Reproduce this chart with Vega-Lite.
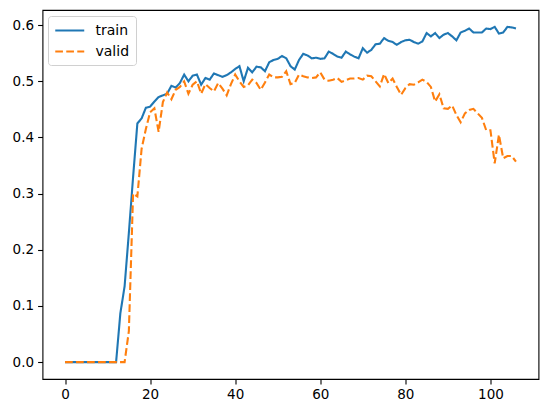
{
  "$schema": "https://vega.github.io/schema/vega-lite/v6.json",
  "autosize": {"type": "none"},
  "width": 496,
  "height": 369,
  "padding": {"left": 42.5, "top": 10, "right": 8.5, "bottom": 34},
  "background": "white",
  "config": {
    "view": {"stroke": "#000000", "strokeWidth": 1.1},
    "axis": {
      "domain": false, "grid": false,
      "tickColor": "#000000", "tickSize": 4.9, "tickWidth": 1.1,
      "labelColor": "#000000", "labelFont": "DejaVu Sans", "labelFontSize": 13.5,
      "labelPadding": 4
    },
    "legend": {
      "labelFont": "DejaVu Sans", "labelFontSize": 14, "labelColor": "#000000",
      "symbolType": "M-1,0H3", "symbolSize": 210, "symbolStrokeWidth": 2,
      "fillColor": "white", "strokeColor": "#d0d0d0", "cornerRadius": 3,
      "padding": 6, "rowPadding": 5, "labelOffset": 24.5
    }
  },
  "data": {
    "values": [
      {"epoch": 0, "train": 0, "valid": 0},
      {"epoch": 1, "train": 0, "valid": 0},
      {"epoch": 2, "train": 0, "valid": 0},
      {"epoch": 3, "train": 0, "valid": 0},
      {"epoch": 4, "train": 0, "valid": 0},
      {"epoch": 5, "train": 0, "valid": 0},
      {"epoch": 6, "train": 0, "valid": 0},
      {"epoch": 7, "train": 0, "valid": 0},
      {"epoch": 8, "train": 0, "valid": 0},
      {"epoch": 9, "train": 0, "valid": 0},
      {"epoch": 10, "train": 0, "valid": 0},
      {"epoch": 11, "train": 0, "valid": 0},
      {"epoch": 12, "train": 0, "valid": 0},
      {"epoch": 13, "train": 0.087, "valid": 0},
      {"epoch": 14, "train": 0.135, "valid": 0},
      {"epoch": 15, "train": 0.23, "valid": 0.055},
      {"epoch": 16, "train": 0.33, "valid": 0.30},
      {"epoch": 17, "train": 0.425, "valid": 0.295},
      {"epoch": 18, "train": 0.434, "valid": 0.38},
      {"epoch": 19, "train": 0.453, "valid": 0.415},
      {"epoch": 20, "train": 0.455, "valid": 0.445},
      {"epoch": 21, "train": 0.464, "valid": 0.452},
      {"epoch": 22, "train": 0.472, "valid": 0.41},
      {"epoch": 23, "train": 0.475, "valid": 0.463},
      {"epoch": 24, "train": 0.478, "valid": 0.48},
      {"epoch": 25, "train": 0.492, "valid": 0.468},
      {"epoch": 26, "train": 0.489, "valid": 0.485},
      {"epoch": 27, "train": 0.497, "valid": 0.49},
      {"epoch": 28, "train": 0.512, "valid": 0.50},
      {"epoch": 29, "train": 0.500, "valid": 0.478},
      {"epoch": 30, "train": 0.510, "valid": 0.494},
      {"epoch": 31, "train": 0.512, "valid": 0.50},
      {"epoch": 32, "train": 0.494, "valid": 0.478},
      {"epoch": 33, "train": 0.506, "valid": 0.495},
      {"epoch": 34, "train": 0.503, "valid": 0.488},
      {"epoch": 35, "train": 0.514, "valid": 0.482},
      {"epoch": 36, "train": 0.511, "valid": 0.497},
      {"epoch": 37, "train": 0.508, "valid": 0.487},
      {"epoch": 38, "train": 0.511, "valid": 0.475},
      {"epoch": 39, "train": 0.516, "valid": 0.495},
      {"epoch": 40, "train": 0.522, "valid": 0.512},
      {"epoch": 41, "train": 0.527, "valid": 0.50},
      {"epoch": 42, "train": 0.500, "valid": 0.49},
      {"epoch": 43, "train": 0.524, "valid": 0.493},
      {"epoch": 44, "train": 0.516, "valid": 0.503},
      {"epoch": 45, "train": 0.526, "valid": 0.497},
      {"epoch": 46, "train": 0.525, "valid": 0.485},
      {"epoch": 47, "train": 0.518, "valid": 0.498},
      {"epoch": 48, "train": 0.534, "valid": 0.512},
      {"epoch": 49, "train": 0.538, "valid": 0.507},
      {"epoch": 50, "train": 0.540, "valid": 0.507},
      {"epoch": 51, "train": 0.545, "valid": 0.508},
      {"epoch": 52, "train": 0.541, "valid": 0.518},
      {"epoch": 53, "train": 0.527, "valid": 0.495},
      {"epoch": 54, "train": 0.521, "valid": 0.497},
      {"epoch": 55, "train": 0.538, "valid": 0.512},
      {"epoch": 56, "train": 0.549, "valid": 0.509},
      {"epoch": 57, "train": 0.546, "valid": 0.507},
      {"epoch": 58, "train": 0.541, "valid": 0.506},
      {"epoch": 59, "train": 0.542, "valid": 0.507},
      {"epoch": 60, "train": 0.540, "valid": 0.516},
      {"epoch": 61, "train": 0.541, "valid": 0.503},
      {"epoch": 62, "train": 0.553, "valid": 0.501},
      {"epoch": 63, "train": 0.549, "valid": 0.503},
      {"epoch": 64, "train": 0.544, "valid": 0.506},
      {"epoch": 65, "train": 0.542, "valid": 0.499},
      {"epoch": 66, "train": 0.553, "valid": 0.502},
      {"epoch": 67, "train": 0.548, "valid": 0.505},
      {"epoch": 68, "train": 0.544, "valid": 0.505},
      {"epoch": 69, "train": 0.541, "valid": 0.506},
      {"epoch": 70, "train": 0.559, "valid": 0.503},
      {"epoch": 71, "train": 0.551, "valid": 0.510},
      {"epoch": 72, "train": 0.556, "valid": 0.509},
      {"epoch": 73, "train": 0.566, "valid": 0.500},
      {"epoch": 74, "train": 0.567, "valid": 0.491},
      {"epoch": 75, "train": 0.577, "valid": 0.513},
      {"epoch": 76, "train": 0.572, "valid": 0.497},
      {"epoch": 77, "train": 0.570, "valid": 0.505},
      {"epoch": 78, "train": 0.565, "valid": 0.490},
      {"epoch": 79, "train": 0.570, "valid": 0.476},
      {"epoch": 80, "train": 0.573, "valid": 0.488},
      {"epoch": 81, "train": 0.574, "valid": 0.495},
      {"epoch": 82, "train": 0.570, "valid": 0.494},
      {"epoch": 83, "train": 0.567, "valid": 0.498},
      {"epoch": 84, "train": 0.571, "valid": 0.503},
      {"epoch": 85, "train": 0.586, "valid": 0.499},
      {"epoch": 86, "train": 0.580, "valid": 0.490},
      {"epoch": 87, "train": 0.586, "valid": 0.464},
      {"epoch": 88, "train": 0.577, "valid": 0.477},
      {"epoch": 89, "train": 0.583, "valid": 0.452},
      {"epoch": 90, "train": 0.586, "valid": 0.451},
      {"epoch": 91, "train": 0.580, "valid": 0.457},
      {"epoch": 92, "train": 0.573, "valid": 0.440},
      {"epoch": 93, "train": 0.587, "valid": 0.427},
      {"epoch": 94, "train": 0.590, "valid": 0.443},
      {"epoch": 95, "train": 0.594, "valid": 0.449},
      {"epoch": 96, "train": 0.587, "valid": 0.451},
      {"epoch": 97, "train": 0.587, "valid": 0.443},
      {"epoch": 98, "train": 0.587, "valid": 0.435},
      {"epoch": 99, "train": 0.594, "valid": 0.413},
      {"epoch": 100, "train": 0.593, "valid": 0.413},
      {"epoch": 101, "train": 0.597, "valid": 0.354},
      {"epoch": 102, "train": 0.585, "valid": 0.405},
      {"epoch": 103, "train": 0.587, "valid": 0.363},
      {"epoch": 104, "train": 0.597, "valid": 0.367},
      {"epoch": 105, "train": 0.596, "valid": 0.367},
      {"epoch": 106, "train": 0.594, "valid": 0.357}
    ]
  },
  "transform": [{"fold": ["train", "valid"], "as": ["series", "acc"]}],
  "mark": {"type": "line", "strokeWidth": 2.1, "clip": true},
  "encoding": {
    "x": {
      "field": "epoch", "type": "quantitative",
      "scale": {"domain": [-5.3, 111.3], "nice": false, "zero": false},
      "axis": {"values": [0, 20, 40, 60, 80, 100], "title": null}
    },
    "y": {
      "field": "acc", "type": "quantitative",
      "scale": {"domain": [-0.03, 0.627], "nice": false, "zero": false},
      "axis": {"values": [0, 0.1, 0.2, 0.3, 0.4, 0.5, 0.6], "format": ".1f", "title": null}
    },
    "color": {
      "field": "series", "type": "nominal",
      "scale": {"domain": ["train", "valid"], "range": ["#1f77b4", "#ff7f0e"]},
      "legend": {"title": null, "orient": "none", "legendX": 5.5, "legendY": 6}
    },
    "strokeDash": {
      "field": "series", "type": "nominal",
      "scale": {"domain": ["train", "valid"], "range": [[1, 0], [7.7, 3.3]]},
      "legend": {"title": null, "orient": "none", "legendX": 5.5, "legendY": 6}
    }
  }
}
